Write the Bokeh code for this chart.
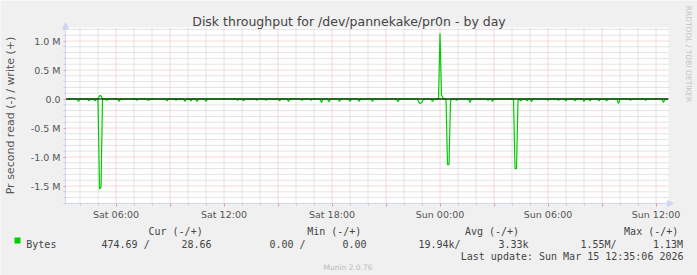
import math
from bokeh.plotting import figure
from bokeh.models import (Label, FixedTicker, BoxAnnotation, Arrow, NormalHead,
                          Range1d, LinearAxis)
from bokeh.embed import file_html
from bokeh.resources import INLINE

# ---------------- data ----------------
# time axis in hours since Sat 00:00
X_START = 57.5 / 18     # Sat ~03:11
X_END = X_START + 603 / 18   # Sun ~12:41
Y_MAX = 1.2328e6
Y_MIN = -1.8017e6

x_tick_hours = [6, 12, 18, 24, 30, 36]
x_tick_labels = ["Sat 06:00", "Sat 12:00", "Sat 18:00", "Sun 00:00", "Sun 06:00", "Sun 12:00"]
y_tick_values = [-1500000, -1000000, -500000, 0, 500000, 1000000]
y_tick_labels = ["-1.5 M", "-1.0 M", "-0.5 M", "0.0", "0.5 M", "1.0 M"]

# read (plotted negative), bytes per second, 5 minute samples (zero elsewhere)
read_time = ["Sat 03:55", "Sat 04:30", "Sat 04:50", "Sat 05:05", "Sat 05:10", "Sat 05:30",
             "Sat 06:10", "Sat 07:10", "Sat 07:45", "Sat 07:50", "Sat 08:50", "Sat 09:20",
             "Sat 09:50", "Sat 10:10", "Sat 10:30", "Sat 11:00", "Sat 12:45", "Sat 13:05",
             "Sat 13:50", "Sat 14:20", "Sat 15:05", "Sat 15:35", "Sat 16:20", "Sat 16:50",
             "Sat 17:25", "Sat 17:50", "Sat 18:25", "Sat 19:00", "Sat 19:30", "Sat 20:15",
             "Sat 21:40", "Sat 22:50", "Sat 22:55", "Sat 23:00", "Sat 23:35", "Sun 00:25",
             "Sun 00:30", "Sun 00:35", "Sun 00:55", "Sun 01:40", "Sun 02:40", "Sun 02:55",
             "Sun 04:10", "Sun 04:15", "Sun 04:20", "Sun 04:30", "Sun 04:50", "Sun 05:05",
             "Sun 06:00", "Sun 06:35", "Sun 07:00", "Sun 07:30", "Sun 08:00", "Sun 08:20",
             "Sun 08:50", "Sun 09:15", "Sun 09:55", "Sun 10:35", "Sun 11:25", "Sun 12:25"]
read_value = [40e3, 30e3, 30e3, 1.55e6, 1.52e6, 20e3,
              40e3, 20e3, 15e3, 20e3, 30e3, 20e3,
              40e3, 30e3, 40e3, 40e3, 20e3, 30e3,
              20e3, 20e3, 30e3, 40e3, 20e3, 20e3,
              60e3, 50e3, 40e3, 40e3, 40e3, 40e3,
              45e3, 60e3, 80e3, 50e3, 40e3, 1.13e6,
              1.13e6, 30e3, 20e3, 60e3, 20e3, 40e3,
              1.2e6, 1.2e6, 30e3, 30e3, 30e3, 45e3,
              20e3, 20e3, 30e3, 30e3, 40e3, 30e3,
              30e3, 30e3, 80e3, 20e3, 20e3, 60e3]

# write (plotted positive)
write_time = ["Sat 05:05", "Sat 05:10", "Sun 00:00", "Sun 00:05", "Sun 00:10"]
write_value = [55e3, 58e3, 1.13e6, 75e3, 20e3]

legend_headers = ["Cur (-/+)", "Min (-/+)", "Avg (-/+)", "Max (-/+)"]
legend_name = "Bytes"
legend_values = ["474.69 /", "28.66", "0.00 /", "0.00", "19.94k/", "3.33k", "1.55M/", "1.13M"]
last_update = "Last update: Sun Mar 15 12:35:06 2026"

assert len(read_time) == len(read_value)
assert len(write_time) == len(write_value)


def to_hours(s):
    day, hm = s.split()
    h, m = hm.split(":")
    return (24 if day == "Sun" else 0) + int(h) + int(m) / 60.0


k0 = math.ceil(X_START * 12)
k1 = math.floor(X_END * 12)
read_by_slot = {round(to_hours(t) * 12): v for t, v in zip(read_time, read_value)}
write_by_slot = {round(to_hours(t) * 12): v for t, v in zip(write_time, write_value)}
xs = [k / 12.0 for k in range(k0, k1 + 1)]
read_y = [-read_by_slot.get(k, 0.0) for k in range(k0, k1 + 1)]
write_y = [write_by_slot.get(k, 0.0) for k in range(k0, k1 + 1)]

# ---------------- layout ----------------
W, H = 697, 275
PX_L, PX_R, PX_T, PX_B = 65, 668, 27, 203      # plot area in canvas pixels
ppx = (PX_R - PX_L) / (X_END - X_START)
ppy = (PX_B - PX_T) / (Y_MAX - Y_MIN)
XL = X_START - PX_L / ppx
XR = X_END + (W - PX_R) / ppx
YT = Y_MAX + PX_T / ppy
YB = Y_MIN - (H - PX_B) / ppy

p = figure(width=W, height=H, x_range=Range1d(XL, XR), y_range=Range1d(YB, YT),
           output_backend="svg", toolbar_location=None,
           x_axis_location=None, y_axis_location=None, min_border=0)
p.min_border_left = p.min_border_right = p.min_border_top = p.min_border_bottom = 0
p.title.visible = False
p.background_fill_color = "#F0F0F0"
p.border_fill_color = "#F0F0F0"
p.outline_line_color = None
p.grid.visible = False

AXIS_C = "#CFD6F8"
GRID_C = "#c8c8c8"
MGRID_C = "#f0b0b0"
FONT_C = "#555555"
TEXT_C = "#444444"
GREEN = "#00CC00"

# plot canvas
p.add_layout(BoxAnnotation(left=X_START, right=X_END, bottom=Y_MIN, top=Y_MAX,
                           fill_color="white", fill_alpha=1.0, line_color=None,
                           level="underlay"))

x_major = list(range(6, 37, 3))
x_minor = [h for h in range(4, 37) if h % 3 != 0]
x_over = {h: "" for h in x_major}
for h, lab in zip(x_tick_hours, x_tick_labels):
    x_over[h] = lab
y_minor = [v * 100000 for v in range(-18, 13) if v % 5 != 0]
y_over = {v: lab for v, lab in zip(y_tick_values, y_tick_labels)}

# grid (dotted), limited to the plot canvas
p.segment(x0=x_minor, y0=Y_MIN, x1=x_minor, y1=Y_MAX, line_color=GRID_C, line_dash="1 1")
p.segment(x0=X_START, y0=y_minor, x1=X_END, y1=y_minor, line_color=GRID_C, line_dash="1 1")
p.segment(x0=x_major, y0=Y_MIN, x1=x_major, y1=Y_MAX, line_color=MGRID_C, line_dash="1 1")
p.segment(x0=X_START, y0=y_tick_values, x1=X_END, y1=y_tick_values, line_color=MGRID_C,
          line_dash="1 1")

# data
p.line(xs, read_y, line_color=GREEN, line_width=1.2)
p.line(xs, write_y, line_color=GREEN, line_width=1.2)
p.segment(x0=X_START, y0=0, x1=X_END, y1=0, line_color="black", line_width=1)

# axes drawn at the canvas edges
xa = LinearAxis(fixed_location=Y_MIN, bounds=(X_START, X_END),
                ticker=FixedTicker(ticks=x_major, minor_ticks=x_minor),
                major_label_overrides=x_over)
ya = LinearAxis(fixed_location=X_START, bounds=(Y_MIN, Y_MAX),
                ticker=FixedTicker(ticks=y_tick_values, minor_ticks=y_minor),
                major_label_overrides=y_over)
for ax in (xa, ya):
    ax.axis_line_color = AXIS_C
    ax.axis_line_width = 1
    ax.major_tick_line_color = "#e89898"
    ax.minor_tick_line_color = GRID_C
    ax.major_tick_in = 0
    ax.minor_tick_in = 0
    ax.major_label_text_font = "DejaVu Sans"
    ax.major_label_text_font_size = "9.5px"
    ax.major_label_text_color = FONT_C
xa.major_tick_out = 3
xa.minor_tick_out = 2
xa.major_label_standoff = 2
ya.major_tick_out = 2
ya.minor_tick_out = 2
ya.major_label_standoff = 3
p.add_layout(xa, "below")
p.add_layout(ya, "left")

# axis arrows
p.add_layout(Arrow(end=NormalHead(size=6, fill_color=AXIS_C, line_color=AXIS_C),
                   line_color=AXIS_C, x_start=X_END, y_start=Y_MIN,
                   x_end=X_END + 5 / ppx, y_end=Y_MIN))
p.add_layout(Arrow(end=NormalHead(size=6, fill_color=AXIS_C, line_color=AXIS_C),
                   line_color=AXIS_C, x_start=X_START, y_start=Y_MAX,
                   x_end=X_START, y_end=Y_MAX + 5 / ppy))


def add_text(cx, cy, text, size, color, font="DejaVu Sans", align="left",
             baseline="alphabetic", angle=0.0):
    p.add_layout(Label(x=cx, y=H - cy, x_units="screen", y_units="screen", text=text,
                       text_font=font, text_font_size=size, text_color=color,
                       text_align=align, text_baseline=baseline, angle=angle))


add_text(348.5, 20.5, "Disk throughput for /dev/pannekake/pr0n - by day", "12.5px", TEXT_C,
         align="center")
add_text(10, 115, "Pr second read (-) / write (+)", "11px", FONT_C, align="center",
         baseline="middle", angle=math.pi / 2)
add_text(687.5, 53.5, "RRDTOOL / TOBI OETIKER", "7.5px", "#c4c4c4", align="center",
         baseline="middle", angle=-math.pi / 2)

MONO = "DejaVu Sans Mono"
for x0, t in zip([148, 306.7, 464.4, 623.6], legend_headers):
    add_text(x0, 231, t, "10px", TEXT_C, font=MONO)
add_text(25.8, 243.6, legend_name, "10px", TEXT_C, font=MONO)
for x0, t in zip([101, 181, 269, 342, 418, 498, 580, 652.4], legend_values):
    add_text(x0, 243.6, t, "10px", TEXT_C, font=MONO)
add_text(683, 256, last_update, "10px", TEXT_C, font=MONO, align="right")
add_text(347.5, 266.7, "Munin 2.0.76", "7.5px", "#bbbbbb", align="center")

p.add_layout(BoxAnnotation(left=14, right=20, top=H - 237, bottom=H - 243,
                           left_units="screen", right_units="screen", top_units="screen",
                           bottom_units="screen", fill_color=GREEN, fill_alpha=1.0,
                           line_color=None))

open("out.html", "w").write(file_html(p, INLINE))
